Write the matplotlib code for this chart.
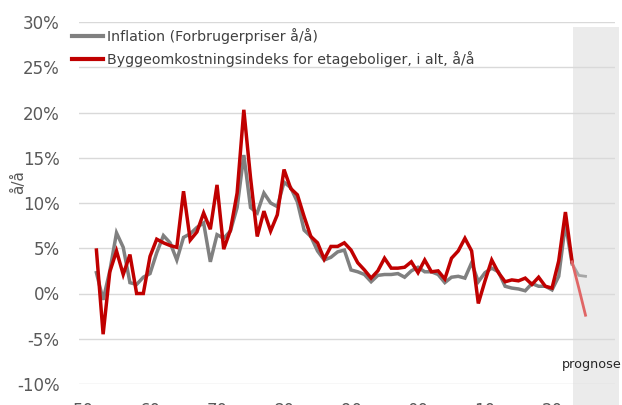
import matplotlib
matplotlib.use("Agg")
import matplotlib.pyplot as plt
from matplotlib.ticker import FuncFormatter, MultipleLocator
import numpy as np

years = list(range(1952, 2026))
inflation = [2.3, -0.7, 2.5, 6.7, 5.1, 1.2, 1.0, 1.8, 2.2, 4.5,
             6.4, 5.6, 3.7, 6.2, 6.6, 7.3, 7.8, 3.5, 6.5, 6.1,
             6.9, 9.5, 15.3, 9.5, 8.9, 11.1, 10.0, 9.6, 12.3, 11.7,
             10.1, 7.0, 6.3, 4.7, 3.7, 4.0, 4.6, 4.8, 2.6, 2.4,
             2.1, 1.3, 2.0, 2.1, 2.1, 2.2, 1.8, 2.5, 2.9, 2.4,
             2.4, 2.1, 1.2, 1.8, 1.9, 1.7, 3.4, 1.3, 2.3, 2.8,
             2.4, 0.8, 0.6, 0.5, 0.3, 1.1, 0.8, 0.8, 0.4, 1.9,
             7.7, 3.3, 2.0, 1.9]
byggeomk = [4.8, -4.5, 2.4, 4.7, 2.1, 4.3, 0.0, 0.0, 4.1, 6.0,
            5.6, 5.3, 5.1, 11.3, 5.9, 6.8, 8.9, 7.1, 12.0, 4.9,
            7.0, 11.1, 20.3, 12.8, 6.3, 9.1, 6.9, 8.7, 13.7, 11.6,
            10.9, 8.5, 6.3, 5.6, 3.8, 5.2, 5.2, 5.6, 4.8, 3.4,
            2.6, 1.7, 2.5, 3.9, 2.8, 2.8, 2.9, 3.5, 2.3, 3.7,
            2.4, 2.5, 1.6, 3.9, 4.7, 6.1, 4.7, -1.1, 1.4, 3.7,
            2.3, 1.3, 1.5, 1.4, 1.7, 1.0, 1.8, 0.8, 0.6, 3.6,
            9.0, 3.5, 0.6, -2.4]
forecast_from = 2023
label_infl = "Inflation (Forbrugerpriser å/å)"
label_bygg = "Byggeomkostningsindeks for etageboliger, i alt, å/å"

yrs = np.array(years)
infl = np.array(inflation)
bygg = np.array(byggeomk)
act = yrs <= forecast_from
fc = yrs >= forecast_from

W, H = 622, 405
fig = plt.figure(figsize=(W / 100, H / 100), dpi=100)
ax = fig.add_axes([79 / W, (H - 384) / H, (615 - 79) / W, (384 - 22) / H])

ax.set_xlim(1949.4, 2029.4)
ax.set_ylim(-10, 30)

# forecast shading
x0 = 2023.1
ax.axvspan(x0, 2030.0, ymin=-0.06, ymax=(384 - 27) / (384 - 22),
           color="#ebebeb", zorder=0, clip_on=False, lw=0)

ax.yaxis.set_major_locator(MultipleLocator(5))
ax.grid(axis="y", color="#d9d9d9", lw=1.0, zorder=1)
ax.set_axisbelow(True)
for s in ax.spines.values():
    s.set_visible(False)

gray = "#808080"
red = "#c00000"
ax.plot(yrs[act], infl[act], color=gray, lw=2.5, zorder=3, label=label_infl,
        solid_joinstyle="miter")
ax.plot(yrs[fc], infl[fc], color="#a6a6a6", lw=2.0, zorder=3)
ax.plot(yrs[act], bygg[act], color=red, lw=2.5, zorder=4, label=label_bygg,
        solid_joinstyle="miter")
ax.plot(yrs[fc], bygg[fc], color="#e06666", lw=2.0, zorder=4)

ax.set_xticks(list(range(1950, 2030, 10)))
ax.xaxis.set_major_formatter(FuncFormatter(lambda v, p: "%02d" % (int(round(v)) % 100)))
ax.yaxis.set_major_formatter(FuncFormatter(lambda v, p: "%d%%" % v))
ax.tick_params(axis="both", length=0, labelsize=12, labelcolor="#595959")
ax.tick_params(axis="x", pad=13)
ax.tick_params(axis="y", pad=14)

ax.set_ylabel("å/å", fontsize=11, color="#595959")
ax.yaxis.set_label_coords((26 - 79) / 536, (384 - 182) / 362)

leg = ax.legend(loc="upper left", bbox_to_anchor=(72 / W, (H - 28) / H),
                bbox_transform=fig.transFigure, frameon=False,
                fontsize=10.2, handlelength=2.2, handletextpad=0.3,
                labelspacing=0.5, borderpad=0, borderaxespad=0)
for t in leg.get_texts():
    t.set_color("#404040")
for l in leg.get_lines():
    l.set_linewidth(3)

ax.text(2026.0, -7.8, "prognose", ha="center", va="center", fontsize=9.2,
        color="#262626", clip_on=False)

fig.savefig("out.png", dpi=100)
